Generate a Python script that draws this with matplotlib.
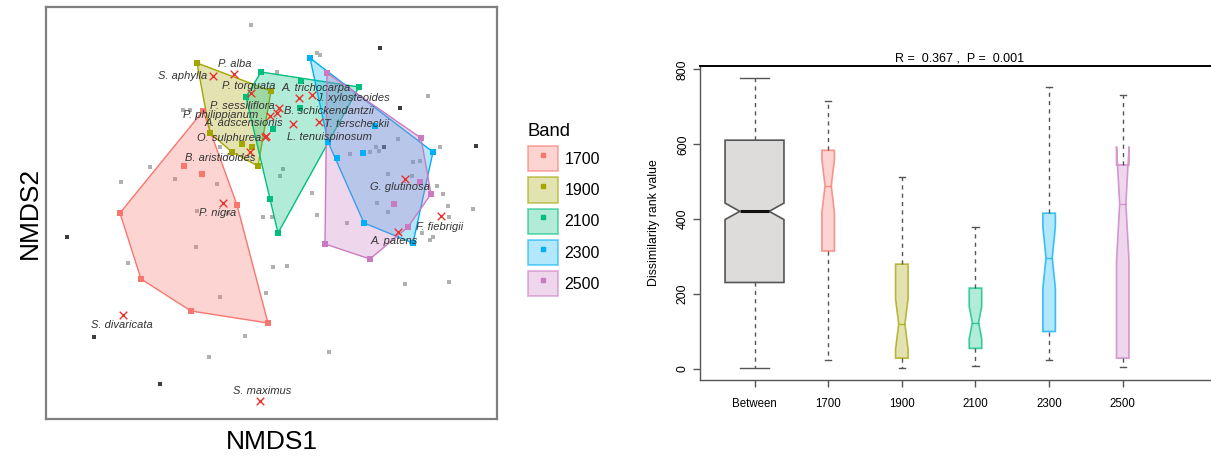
import numpy as np
import matplotlib
matplotlib.use("Agg")
import matplotlib.pyplot as plt
from matplotlib.patches import Patch
from matplotlib.lines import Line2D
from matplotlib.legend_handler import HandlerTuple
from matplotlib.colors import to_rgba

plt.rcParams['font.family'] = ['Liberation Sans', 'DejaVu Sans']

# ---------------------------------------------------------------- data
bands = ["1700", "1900", "2100", "2300", "2500"]

# NMDS site scores per elevation band
nmds1_1700 = [-0.67, -0.33, -0.02, -0.79, -1.29, -1.50, -0.86, -0.68]
nmds2_1700 = [1.02, 0.08, -1.10, -0.98, -0.66, 0.00, 0.47, 0.39]
nmds1_1900 = [-0.73, 0.01, -0.12, -0.60, -0.28, -0.18, -0.38]
nmds2_1900 = [1.50, 1.22, 0.47, 0.80, 0.69, 0.66, 0.61]
nmds1_2100 = [-0.09, 0.89, 0.58, 0.08, 0.00, -0.24, 0.03, 0.31, 0.30]
nmds2_2100 = [1.41, 1.26, 0.71, -0.20, 0.14, 1.16, 0.84, 1.32, 1.05]
nmds1_2300 = [0.40, 1.63, 1.43, 0.94, 0.67, 0.58, 1.05, 0.93]
nmds2_2300 = [1.55, 0.61, -0.30, -0.10, 0.55, 0.71, 0.87, 0.60]
nmds1_2500 = [0.57, 1.51, 1.61, 1.38, 1.00, 0.55, 1.24, 1.50]
nmds2_2500 = [1.40, 0.75, 0.19, -0.14, -0.46, -0.31, 0.09, 0.31]

# remaining site scores (no band hull)
other1 = [-0.19, -1.20, -1.49, -0.95, -0.53, -0.73, -0.42, -0.07, 0.02, 0.10,
          0.13, -0.50, -0.87, 0.07, 0.47, 0.50, 1.58, 1.70, 0.42, 0.47,
          1.67, 1.73, 1.78, 2.03, 1.28, 1.06, 1.09, 0.80, 1.00, 1.43,
          1.50, 1.42, 1.18, 1.07, 1.18, -0.74, -1.42, -0.50, -0.04, -0.25,
          -0.61, 0.03, 0.17, 1.35, 1.79, 0.59, 0.77, 1.79, 1.63, 1.60,
          1.52, -0.80]
other2 = [1.88, 0.46, 0.31, 0.34, 0.29, 0.02, 0.00, -0.04, -0.04, 0.37,
          0.44, 0.66, 1.03, 1.41, 1.60, 1.58, 1.17, 0.66, 0.20, -0.02,
          0.27, 0.19, 0.07, 0.04, 0.74, 0.66, 0.62, 0.59, 0.61, 0.51,
          0.52, 0.37, 0.39, 0.10, 0.01, -0.34, -0.50, -0.84, -0.80, -1.23,
          -1.44, -0.54, -0.53, -0.71, -0.69, -1.39, -0.10, -0.04, -0.24, -0.27,
          -0.20, 1.03]
dark1 = [-2.03, -1.76, -1.10, 1.10, 1.30, 2.06, 1.14]
dark2 = [-0.24, -1.24, -1.71, 1.65, 1.05, 0.67, 0.66]

# species scores
species = ["S. aphylla", "P. alba", "P. torquata", "P. sessiliflora",
           "P. philippianum", "A. adscensionis", "O. sulphurea",
           "B. aristidoides", "P. nigra", "A. trichocarpa", "J. xylosteoides",
           "B. schickendantzii", "T. terscheckii", "L. tenuispinosum",
           "G. glutinosa", "F. fiebrigii", "A. patens", "S. divaricata",
           "S. maximus"]
sp1 = [-0.57, -0.36, -0.19, 0.09, 0.00, 0.23, -0.05, -0.20, -0.47, 0.29,
       0.42, 0.07, 0.49, -0.04, 1.35, 1.71, 1.28, -1.47, -0.10]
sp2 = [1.37, 1.39, 1.20, 1.05, 0.97, 0.89, 0.76, 0.61, 0.10, 1.15,
       1.18, 1.00, 0.91, 0.77, 0.34, -0.03, -0.19, -1.02, -1.88]

# ANOSIM dissimilarity ranks
groups = ["Between", "1700", "1900", "2100", "2300", "2500"]
whislo = [3, 25, 3, 9, 25, 6]
q1 = [231, 315, 29, 55, 100, 29]
med = [421, 489, 120, 124, 297, 441]
q3 = [611, 584, 280, 216, 416, 545]
whishi = [778, 716, 513, 378, 754, 732]
cilo = [399, 419, 53, 81, 215, 288]
cihi = [443, 559, 187, 167, 379, 594]
anosim_R = 0.367
anosim_P = 0.001

# ---------------------------------------------------------------- style
band_colors = ["#F8766D", "#A3A500", "#00BF7D", "#00B0F6", "#C97BC2"]
label_offsets = [(-0.30, 0.0), (0.01, 0.10), (-0.02, 0.07), (-0.37, 0.02),
                 (-0.49, 0.01), (-0.49, 0.01), (-0.36, -0.01), (-0.30, -0.06),
                 (-0.05, -0.10), (0.17, 0.10), (0.41, -0.03), (0.52, 0.02),
                 (0.38, -0.02), (0.63, -0.01), (-0.05, -0.08), (-0.01, -0.11),
                 (-0.04, -0.09), (-0.01, -0.10), (0.02, 0.10)]


def convex_hull(x, y):
    pts = sorted(set(zip(x, y)))

    def cross(o, a, b):
        return (a[0] - o[0]) * (b[1] - o[1]) - (a[1] - o[1]) * (b[0] - o[0])

    lower, upper = [], []
    for p in pts:
        while len(lower) >= 2 and cross(lower[-2], lower[-1], p) <= 0:
            lower.pop()
        lower.append(p)
    for p in reversed(pts):
        while len(upper) >= 2 and cross(upper[-2], upper[-1], p) <= 0:
            upper.pop()
        upper.append(p)
    hull = lower[:-1] + upper[:-1]
    return np.array(hull)


W, H = 1211, 458
fig = plt.figure(figsize=(W / 100, H / 100), dpi=100)

# ---------------------------------------------------------------- NMDS panel
ax = fig.add_axes([46 / W, (H - 419) / H, 451 / W, 412 / H])
ax.set_xlim(-2.24, 2.27)
ax.set_ylim(-2.06, 2.06)

ax.scatter(other1, other2, marker='s', s=7, color='#b0b0b0', lw=0, zorder=1)
ax.scatter(dark1, dark2, marker='s', s=7, color='#3d3d3d', lw=0, zorder=1)

band_x = [nmds1_1700, nmds1_1900, nmds1_2100, nmds1_2300, nmds1_2500]
band_y = [nmds2_1700, nmds2_1900, nmds2_2100, nmds2_2300, nmds2_2500]
for bx, by, col in zip(band_x, band_y, band_colors):
    hull = convex_hull(bx, by)
    ax.fill(hull[:, 0], hull[:, 1], facecolor=to_rgba(col, 0.3),
            edgecolor=col, lw=1.0, zorder=2)
    ax.scatter(bx, by, marker='s', s=14, color=col, lw=0, zorder=3)

ax.scatter(sp1, sp2, marker='x', s=30, color='#E8332D', lw=1.0, zorder=4)
for name, x, y, (dx, dy) in zip(species, sp1, sp2, label_offsets):
    ax.text(x + dx, y + dy, name, fontsize=8, style='italic', color='#333333',
            ha='center', va='center', zorder=5)

ax.set_xticks([])
ax.set_yticks([])
for sp in ax.spines.values():
    sp.set_color('#7f7f7f')
    sp.set_linewidth(1.6)
ax.set_xlabel("NMDS1", fontsize=19, labelpad=8)
ax.set_ylabel("NMDS2", fontsize=19, labelpad=3)

handles = [(Patch(facecolor=to_rgba(c, 0.3), edgecolor=to_rgba(c, 0.6), lw=1.2),
            Line2D([], [], ls='', marker='s', ms=3.5, color=c)) for c in band_colors]
leg = ax.legend(handles, bands, title="Band", loc='upper left',
                bbox_to_anchor=(520 / W, (H - 115) / H),
                bbox_transform=fig.transFigure, frameon=False,
                handler_map={tuple: HandlerTuple(ndivide=1)},
                fontsize=11.5, title_fontsize=13.3, handlelength=1.85,
                handleheight=2.05, labelspacing=0.38, handletextpad=0.45,
                borderpad=0, alignment='left')

# ---------------------------------------------------------------- ANOSIM panel
bx_ax = fig.add_axes([700 / W, (H - 380) / H, 520 / W, 314 / H])
positions = np.arange(1, len(groups) + 1)
widths = [0.8] + [0.17] * (len(groups) - 1)
stats = []
for i, g in enumerate(groups):
    stats.append(dict(label=g, med=med[i], q1=q1[i], q3=q3[i],
                      whislo=whislo[i], whishi=whishi[i],
                      cilo=cilo[i], cihi=cihi[i], fliers=[]))
bp = bx_ax.bxp(stats, positions=positions, widths=widths, shownotches=True,
               patch_artist=True, showfliers=False,
               whiskerprops=dict(color='#555555', lw=1.0, ls=(0, (3, 3))),
               capprops=dict(color='#555555', lw=1.0))
box_faces = ['#DDDCDA'] + [to_rgba(c, 0.3) for c in band_colors]
box_edges = ['#555555'] + [to_rgba(c, 0.75) for c in band_colors]
for i, (patch, mline) in enumerate(zip(bp['boxes'], bp['medians'])):
    patch.set_facecolor(box_faces[i])
    patch.set_edgecolor(box_edges[i])
    patch.set_linewidth(1.2)
    if i == 0:
        mline.set_color('#111111')
        mline.set_linewidth(2.2)
    else:
        mline.set_color(box_edges[i])
        mline.set_linewidth(1.0)

bx_ax.set_xlim(0.26, 7.32)
bx_ax.set_ylim(-29.4, 809.1)
bx_ax.set_xticks(positions)
bx_ax.set_xticklabels(groups, fontsize=8.3)
bx_ax.set_yticks([0, 200, 400, 600, 800])
bx_ax.set_yticklabels(["0", "200", "400", "600", "800"], fontsize=8.8,
                      rotation=90, va='center')
bx_ax.tick_params(axis='x', length=5, width=1, color='#555555', pad=8)
bx_ax.tick_params(axis='y', length=5, width=1, color='#555555', pad=3)
bx_ax.spines['right'].set_visible(False)
bx_ax.spines['left'].set_color('#555555')
bx_ax.spines['bottom'].set_color('#555555')
bx_ax.spines['left'].set_linewidth(1.0)
bx_ax.spines['bottom'].set_linewidth(1.0)
bx_ax.spines['top'].set_color('#000000')
bx_ax.spines['top'].set_linewidth(1.4)
bx_ax.set_ylabel("Dissimilarity rank value", fontsize=8.8, labelpad=12)
bx_ax.set_title(f"R =  {anosim_R:.3f} ,  P =  {anosim_P:.3f}", fontsize=9,
                pad=3)

fig.savefig("out.png", dpi=100)
